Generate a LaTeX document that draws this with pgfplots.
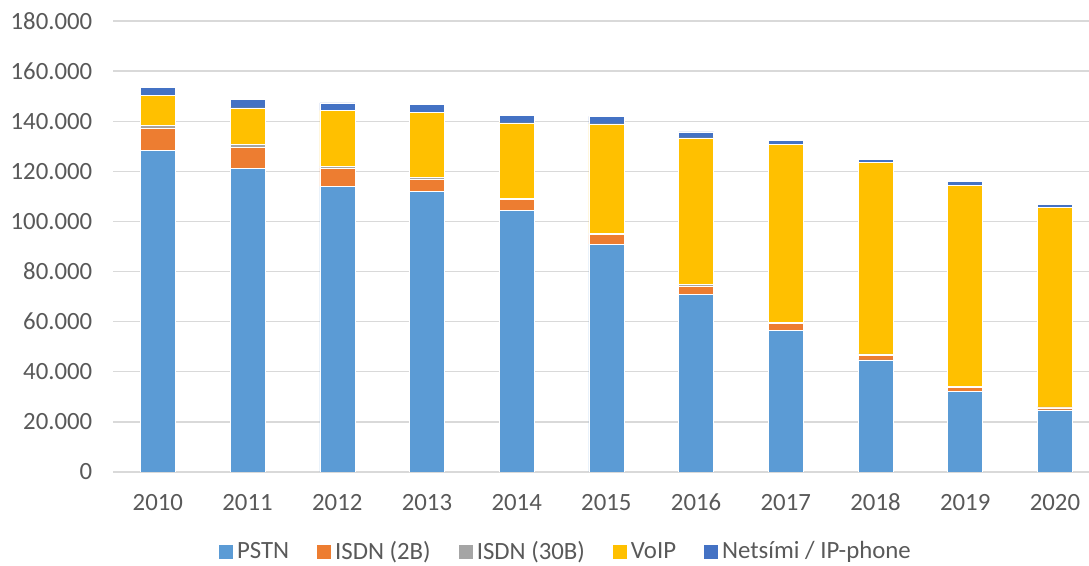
\documentclass[border=0pt]{standalone}
\usepackage{pgfplots}
\pgfplotsset{compat=1.18}
\usepackage{fontspec}
\setmainfont{Carlito}
\definecolor{cPSTN}{HTML}{5B9BD5}
\definecolor{cISDNa}{HTML}{ED7D31}
\definecolor{cISDNb}{HTML}{A5A5A5}
\definecolor{cVoIP}{HTML}{FFC000}
\definecolor{cNet}{HTML}{4472C4}
\definecolor{txt}{HTML}{595959}
\definecolor{gridc}{HTML}{D9D9D9}
\begin{document}
\begin{tikzpicture}
\path[use as bounding box] (0,0) rectangle (816.75pt,424.5pt);
\begin{axis}[
  at={(84.75pt,70.5pt)}, anchor=south west,
  scale only axis, width=732pt, height=338.25pt,
  ybar stacked, bar width=26.25pt,
  xmin=-0.5, xmax=10.38, ymin=0, ymax=180000,
  enlargelimits=false,
  scaled y ticks=false,
  xtick={0,...,10},
  xticklabels={2010,2011,2012,2013,2014,2015,2016,2017,2018,2019,2020},
  ytick={0,20000,40000,60000,80000,100000,120000,140000,160000,180000},
  yticklabels={0,20.000,40.000,60.000,80.000,100.000,120.000,140.000,160.000,180.000},
  ymajorgrids, grid style={gridc, line width=1pt},
  axis line style={draw=none},
  major tick length=0pt,
  tick style={draw=none},
  ticklabel style={font=\fontsize{18.6}{22}\selectfont, text=txt},
  yticklabel style={xshift=-12pt},
  xticklabel style={yshift=-13pt},
  legend style={draw=none, fill=none, legend columns=5,
    at={(0.464,-0.176)}, anchor=center,
    font=\fontsize{18.6}{22}\selectfont, text=txt,
    /tikz/every even column/.append style={column sep=19.5pt},
    nodes={inner sep=1.5pt},
    /tikz/every odd column/.append style={column sep=1.5pt}},
  legend image code/.code={\fill[#1,draw=none] (0pt,-5.5pt) rectangle (10.5pt,5pt);},
  every axis plot/.append style={draw=white, line width=0.4pt},
]
\addplot[fill=cPSTN] coordinates {(0,128300) (1,121300) (2,114000) (3,112000) (4,104300) (5,90900) (6,70900) (7,56500) (8,44700) (9,32300) (10,24800)};
\addplot[fill=cISDNa] coordinates {(0,9000) (1,8400) (2,7300) (3,4900) (4,4400) (5,3800) (6,3200) (7,2700) (8,1800) (9,1400) (10,800)};
\addplot[fill=cISDNb] coordinates {(0,1100) (1,1200) (2,800) (3,800) (4,600) (5,600) (6,700) (7,400) (8,600) (9,600) (10,400)};
\addplot[fill=cVoIP] coordinates {(0,12000) (1,14400) (2,22200) (3,25800) (4,30000) (5,43600) (6,58500) (7,71100) (8,76400) (9,80200) (10,79700)};
\addplot[fill=cNet] coordinates {(0,3000) (1,3400) (2,3000) (3,3200) (4,3100) (5,3000) (6,2400) (7,1600) (8,1300) (9,1400) (10,1100)};
\legend{PSTN,ISDN (2B),ISDN (30B),VoIP,Netsími / IP-phone}
\end{axis}
\end{tikzpicture}
\end{document}
